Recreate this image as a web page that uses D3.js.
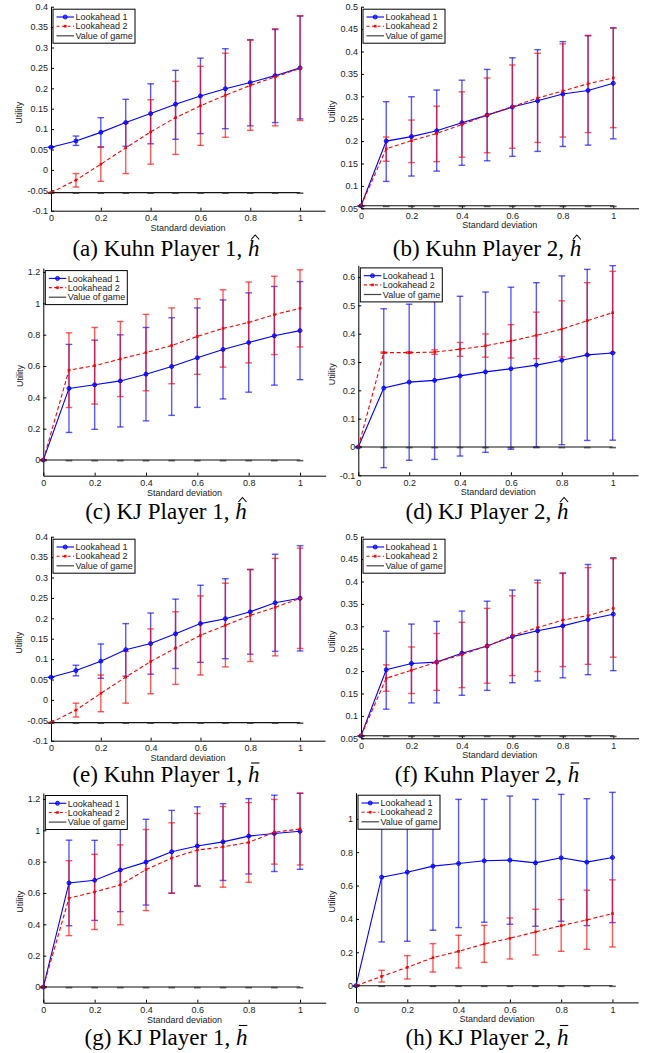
<!DOCTYPE html>
<html>
<head>
<meta charset="utf-8">
<script src="https://d3js.org/d3.v7.min.js"></script>
<style>
body { margin: 0; background: #fff; }
svg text { font-family: "Liberation Sans", Arial, sans-serif; fill: #222; }
svg text.cap { font-family: "Liberation Serif", "Times New Roman", serif; fill: #000; }
.domain { stroke: #000; }
.tick line { stroke: #000; }
</style>
</head>
<body>
<svg id="chart" width="651" height="1053"></svg>
<script>
// x positions (standard deviation)
const xVals = [0, 0.1, 0.2, 0.3, 0.4, 0.5, 0.6, 0.7, 0.8, 0.9, 1];
const xTicks = [0, 0.2, 0.4, 0.6, 0.8, 1];

// tick labels for the y axes
const kuhn1Ticks = [-0.1, -0.05, 0, 0.05, 0.1, 0.15, 0.2, 0.25, 0.3, 0.35, 0.4];
const kuhn2Ticks = [0.05, 0.1, 0.15, 0.2, 0.25, 0.3, 0.35, 0.4, 0.45, 0.5];
const kj1Ticks = [0, 0.2, 0.4, 0.6, 0.8, 1, 1.2];
const kj2hatTicks = [-0.1, 0, 0.1, 0.2, 0.3, 0.4, 0.5, 0.6];
const kj2barTicks = [0, 0.2, 0.4, 0.6, 0.8, 1];

const seriesNames = ["Lookahead 1", "Lookahead 2", "Value of game"];
const captions = ["(a) Kuhn Player 1, ", "(b) Kuhn Player 2, ", "(c) KJ Player 1, ", "(d) KJ Player 2, ",
                  "(e) Kuhn Player 1, ", "(f) Kuhn Player 2, ", "(g) KJ Player 1, ", "(h) KJ Player 2, "];
const accents = ["hat", "hat", "hat", "hat", "bar", "bar", "bar", "bar"];

// (a) Kuhn Player 1, h-hat
const a_l1    = [0.0556, 0.071, 0.092, 0.116, 0.138, 0.161, 0.181, 0.199, 0.214, 0.231, 0.250];
const a_l1_lo = [0.0556, 0.060, 0.056, 0.058, 0.064, 0.075, 0.089, 0.101, 0.108, 0.116, 0.125];
const a_l1_hi = [0.0556, 0.083, 0.128, 0.173, 0.211, 0.244, 0.274, 0.297, 0.319, 0.344, 0.377];
const a_l2    = [-0.0556, -0.025, 0.014, 0.054, 0.093, 0.128, 0.157, 0.183, 0.207, 0.228, 0.249];
const a_l2_lo = [-0.0556, -0.042, -0.028, -0.009, 0.014, 0.038, 0.060, 0.080, 0.097, 0.108, 0.121];
const a_l2_hi = [-0.0556, -0.009, 0.056, 0.115, 0.172, 0.217, 0.254, 0.286, 0.318, 0.346, 0.378];

// (b) Kuhn Player 2, h-hat
const b_l1    = [0.0556, 0.200, 0.210, 0.223, 0.241, 0.258, 0.276, 0.290, 0.305, 0.313, 0.329];
const b_l1_lo = [0.0556, 0.110, 0.122, 0.133, 0.146, 0.156, 0.166, 0.177, 0.188, 0.191, 0.205];
const b_l1_hi = [0.0556, 0.288, 0.299, 0.314, 0.336, 0.360, 0.386, 0.404, 0.422, 0.435, 0.453];
const b_l2    = [0.0556, 0.183, 0.201, 0.217, 0.237, 0.258, 0.277, 0.296, 0.312, 0.328, 0.341];
const b_l2_lo = [0.0556, 0.155, 0.152, 0.154, 0.164, 0.174, 0.184, 0.197, 0.209, 0.219, 0.230];
const b_l2_hi = [0.0556, 0.209, 0.247, 0.278, 0.310, 0.341, 0.370, 0.396, 0.417, 0.436, 0.452];

// (c) KJ Player 1, h-hat
const c_l1    = [0, 0.457, 0.480, 0.505, 0.548, 0.597, 0.653, 0.706, 0.750, 0.793, 0.826];
const c_l1_lo = [0, 0.176, 0.196, 0.211, 0.250, 0.285, 0.336, 0.390, 0.433, 0.478, 0.513];
const c_l1_hi = [0, 0.738, 0.765, 0.799, 0.846, 0.908, 0.971, 1.022, 1.067, 1.108, 1.139];
const c_l2    = [0, 0.574, 0.602, 0.645, 0.686, 0.731, 0.789, 0.840, 0.878, 0.928, 0.968];
const c_l2_lo = [0, 0.335, 0.357, 0.405, 0.442, 0.487, 0.547, 0.593, 0.620, 0.673, 0.722];
const c_l2_hi = [0, 0.812, 0.846, 0.884, 0.930, 0.971, 1.029, 1.087, 1.136, 1.173, 1.214];

// (d) KJ Player 2, h-hat
const d_l1    = [0, 0.208, 0.229, 0.235, 0.251, 0.265, 0.276, 0.289, 0.306, 0.325, 0.332];
const d_l1_lo = [0, -0.073, -0.047, -0.044, -0.032, -0.019, -0.008, 0.000, 0.008, 0.023, 0.024];
const d_l1_hi = [0, 0.488, 0.504, 0.514, 0.532, 0.547, 0.564, 0.580, 0.604, 0.627, 0.640];
const d_l2    = [0, 0.333, 0.333, 0.335, 0.345, 0.357, 0.374, 0.394, 0.416, 0.446, 0.474];
const d_l2_lo = [0, 0.331, 0.330, 0.327, 0.320, 0.317, 0.314, 0.312, 0.318, 0.324, 0.333];
const d_l2_hi = [0, 0.335, 0.336, 0.343, 0.369, 0.399, 0.432, 0.476, 0.516, 0.580, 0.620];

// (e) Kuhn Player 1, h-bar
const e_l1    = [0.0556, 0.072, 0.095, 0.123, 0.138, 0.162, 0.187, 0.199, 0.216, 0.238, 0.249];
const e_l1_lo = [0.0556, 0.059, 0.053, 0.058, 0.063, 0.077, 0.092, 0.101, 0.112, 0.119, 0.120];
const e_l1_hi = [0.0556, 0.085, 0.137, 0.187, 0.213, 0.247, 0.281, 0.297, 0.320, 0.357, 0.378];
const e_l2    = [-0.0556, -0.025, 0.016, 0.056, 0.094, 0.127, 0.158, 0.183, 0.207, 0.227, 0.249];
const e_l2_lo = [-0.0556, -0.042, -0.029, -0.008, 0.015, 0.038, 0.061, 0.081, 0.094, 0.108, 0.126];
const e_l2_hi = [-0.0556, -0.008, 0.061, 0.119, 0.174, 0.216, 0.255, 0.286, 0.319, 0.347, 0.372];

// (f) Kuhn Player 2, h-bar
const f_l1    = [0.0556, 0.203, 0.217, 0.220, 0.240, 0.256, 0.277, 0.290, 0.301, 0.315, 0.327];
const f_l1_lo = [0.0556, 0.115, 0.129, 0.129, 0.146, 0.157, 0.174, 0.178, 0.185, 0.192, 0.201];
const f_l1_hi = [0.0556, 0.289, 0.305, 0.311, 0.334, 0.356, 0.381, 0.403, 0.419, 0.438, 0.453];
const f_l2    = [0.0556, 0.184, 0.202, 0.220, 0.237, 0.256, 0.279, 0.297, 0.314, 0.324, 0.340];
const f_l2_lo = [0.0556, 0.155, 0.150, 0.157, 0.163, 0.173, 0.190, 0.199, 0.210, 0.215, 0.231];
const f_l2_hi = [0.0556, 0.214, 0.254, 0.284, 0.309, 0.340, 0.368, 0.397, 0.418, 0.431, 0.451];

// (g) KJ Player 1, h-bar
const g_l1    = [0, 0.664, 0.681, 0.747, 0.797, 0.863, 0.900, 0.926, 0.963, 0.980, 0.994];
const g_l1_lo = [0, 0.391, 0.425, 0.481, 0.523, 0.599, 0.647, 0.680, 0.721, 0.737, 0.751];
const g_l1_hi = [0, 0.937, 0.936, 1.013, 1.070, 1.127, 1.150, 1.170, 1.202, 1.224, 1.237];
const g_l2    = [0, 0.567, 0.607, 0.652, 0.749, 0.823, 0.874, 0.894, 0.923, 0.988, 1.008];
const g_l2_lo = [0, 0.328, 0.367, 0.397, 0.488, 0.598, 0.643, 0.637, 0.668, 0.784, 0.779];
const g_l2_hi = [0, 0.806, 0.847, 0.907, 1.005, 1.048, 1.107, 1.152, 1.177, 1.197, 1.236];

// (h) KJ Player 2, h-bar
const h_l1    = [0, 0.650, 0.680, 0.716, 0.732, 0.748, 0.752, 0.736, 0.766, 0.740, 0.768];
const h_l1_lo = [0, 0.262, 0.266, 0.332, 0.348, 0.380, 0.368, 0.356, 0.386, 0.360, 0.378];
const h_l1_hi = [0, 1.038, 1.094, 1.100, 1.116, 1.116, 1.136, 1.116, 1.146, 1.120, 1.158];
const h_l2    = [0, 0.056, 0.110, 0.168, 0.206, 0.250, 0.284, 0.322, 0.360, 0.394, 0.432];
const h_l2_lo = [0, 0.022, 0.040, 0.082, 0.106, 0.140, 0.160, 0.184, 0.206, 0.218, 0.232];
const h_l2_hi = [0, 0.092, 0.180, 0.252, 0.302, 0.362, 0.406, 0.458, 0.516, 0.572, 0.634];

// value of the game for each panel
const gameValues = [-0.0556, 0.0556, 0, 0, -0.0556, 0.0556, 0, 0];

const blue = "#0000ff", red = "#ff0000";
const svg = d3.select("#chart");

// layout of each subplot (pixel box of the axes)
const panels = [
  {left: 51,    right: 325,   top: 6.7,   bottom: 210.7,  ydom: [-0.1, 0.4],   yticks: kuhn1Ticks,  l1: [a_l1, a_l1_lo, a_l1_hi], l2: [a_l2, a_l2_lo, a_l2_hi], cx: 166, cy: 256},
  {left: 361,   right: 638.5, top: 6.7,   bottom: 208.3,  ydom: [0.05, 0.5],   yticks: kuhn2Ticks,  l1: [b_l1, b_l1_lo, b_l1_hi], l2: [b_l2, b_l2_lo, b_l2_hi], cx: 487, cy: 256},
  {left: 43.3,  right: 325.7, top: 268.1, bottom: 475.7,  ydom: [-0.1, 1.225], yticks: kj1Ticks,    l1: [c_l1, c_l1_lo, c_l1_hi], l2: [c_l2, c_l2_lo, c_l2_hi], cx: 166, cy: 518.5},
  {left: 358.3, right: 638.1, top: 265.4, bottom: 475.3,  ydom: [-0.1, 0.641], yticks: kj2hatTicks, l1: [d_l1, d_l1_lo, d_l1_hi], l2: [d_l2, d_l2_lo, d_l2_hi], cx: 487, cy: 518.5},
  {left: 51,    right: 325,   top: 536.7, bottom: 740.7,  ydom: [-0.1, 0.4],   yticks: kuhn1Ticks,  l1: [e_l1, e_l1_lo, e_l1_hi], l2: [e_l2, e_l2_lo, e_l2_hi], cx: 166, cy: 782},
  {left: 361,   right: 638.5, top: 536.7, bottom: 738.3,  ydom: [0.05, 0.5],   yticks: kuhn2Ticks,  l1: [f_l1, f_l1_lo, f_l1_hi], l2: [f_l2, f_l2_lo, f_l2_hi], cx: 487, cy: 782},
  {left: 43.3,  right: 325.7, top: 793,   bottom: 1002.7, ydom: [-0.1, 1.238], yticks: kj1Ticks,    l1: [g_l1, g_l1_lo, g_l1_hi], l2: [g_l2, g_l2_lo, g_l2_hi], cx: 166, cy: 1044.5},
  {left: 356,   right: 638.1, top: 792.7, bottom: 1002.4, ydom: [-0.1, 1.156], yticks: kj2barTicks, l1: [h_l1, h_l1_lo, h_l1_hi], l2: [h_l2, h_l2_lo, h_l2_hi], cx: 487, cy: 1044.5}
];

const fmt = d => String(+d.toFixed(2));

function errorBars(g, x, y, mean, lo, hi, color) {
  const eb = g.append("g").attr("stroke", color).attr("stroke-opacity", 0.65).attr("stroke-width", 1.4);
  xVals.forEach((xv, i) => {
    const px = x(xv);
    eb.append("line").attr("x1", px).attr("x2", px).attr("y1", y(lo[i])).attr("y2", y(hi[i]));
    eb.append("line").attr("x1", px - 3.3).attr("x2", px + 3.3).attr("y1", y(lo[i])).attr("y2", y(lo[i]));
    eb.append("line").attr("x1", px - 3.3).attr("x2", px + 3.3).attr("y1", y(hi[i])).attr("y2", y(hi[i]));
  });
}

function drawPanel(p, k) {
  const x = d3.scaleLinear().domain([0, 1.1]).range([p.left, p.right]);
  const y = d3.scaleLinear().domain(p.ydom).range([p.bottom, p.top]);
  const g = svg.append("g");

  // axes (MATLAB style, ticks pointing in, box off)
  const ya = g.append("g").attr("transform", `translate(${p.left},0)`)
    .call(d3.axisLeft(y).tickValues(p.yticks).tickFormat(fmt).tickSizeInner(-3).tickSizeOuter(0).tickPadding(3));
  const xa = g.append("g").attr("transform", `translate(0,${p.bottom})`)
    .call(d3.axisBottom(x).tickValues(xTicks).tickFormat(fmt).tickSizeInner(-3).tickSizeOuter(0).tickPadding(4));
  g.selectAll(".tick text").attr("font-size", 9).attr("font-family", "Liberation Sans, Arial, sans-serif").attr("fill", "#222");

  let maxW = 0;
  ya.selectAll(".tick text").each(function() { maxW = Math.max(maxW, this.getComputedTextLength()); });

  g.append("text").attr("x", (p.left + p.right) / 2).attr("y", p.bottom + 20)
    .attr("text-anchor", "middle").attr("font-size", 9).text("Standard deviation");
  g.append("text")
    .attr("transform", `translate(${p.left - 3 - maxW - 5},${(p.top + p.bottom) / 2 + 4}) rotate(-90)`)
    .attr("text-anchor", "middle").attr("font-size", 9).text("Utility");

  // series 1 (blue, solid, circles)
  errorBars(g, x, y, p.l1[0], p.l1[1], p.l1[2], blue);
  // series 2 (red, dashed, dots)
  errorBars(g, x, y, p.l2[0], p.l2[1], p.l2[2], red);

  const line = d3.line().x((d, i) => x(xVals[i])).y(d => y(d));
  g.append("path").attr("d", line(p.l1[0])).attr("fill", "none").attr("stroke", blue).attr("stroke-width", 1.1);
  g.selectAll(null).data(p.l1[0]).join("circle")
    .attr("cx", (d, i) => x(xVals[i])).attr("cy", d => y(d)).attr("r", 2)
    .attr("fill", blue).attr("fill-opacity", 0.6).attr("stroke", blue).attr("stroke-width", 0.9);

  g.append("path").attr("d", line(p.l2[0])).attr("fill", "none").attr("stroke", red)
    .attr("stroke-width", 1.1).attr("stroke-dasharray", "4,2.5");
  g.selectAll(null).data(p.l2[0]).join("rect")
    .attr("x", (d, i) => x(xVals[i]) - 1.3).attr("y", d => y(d) - 1.3).attr("width", 2.6).attr("height", 2.6)
    .attr("fill", red);

  // value of game (zero-width error bars give the thicker caps)
  const gv = gameValues[k];
  g.append("line").attr("x1", x(0)).attr("x2", x(1)).attr("y1", y(gv)).attr("y2", y(gv))
    .attr("stroke", "#111").attr("stroke-width", 1.1);
  g.selectAll(null).data(xVals).join("line")
    .attr("x1", d => x(d) - 3.3).attr("x2", d => x(d) + 3.3).attr("y1", y(gv) + 0.6).attr("y2", y(gv) + 0.6)
    .attr("stroke", "#333").attr("stroke-width", 1.6).attr("stroke-opacity", 0.8);

  // legend
  const lx = p.left + 2, ly = p.top + 2.5;
  const lg = g.append("g").attr("transform", `translate(${lx},${ly})`);
  lg.append("rect").attr("width", 82).attr("height", 34).attr("fill", "#fff").attr("stroke", "#000").attr("stroke-width", 1);
  const rows = [7.8, 17, 26.6];
  lg.append("line").attr("x1", 3.5).attr("x2", 21).attr("y1", rows[0]).attr("y2", rows[0]).attr("stroke", blue).attr("stroke-width", 1.1);
  lg.append("circle").attr("cx", 12.2).attr("cy", rows[0]).attr("r", 2).attr("fill", blue).attr("fill-opacity", 0.6).attr("stroke", blue).attr("stroke-width", 0.9);
  lg.append("line").attr("x1", 3.5).attr("x2", 21).attr("y1", rows[1]).attr("y2", rows[1]).attr("stroke", red).attr("stroke-width", 1.1).attr("stroke-dasharray", "3,2.5");
  lg.append("rect").attr("x", 10.9).attr("y", rows[1] - 1.3).attr("width", 2.6).attr("height", 2.6).attr("fill", red);
  lg.append("line").attr("x1", 3.5).attr("x2", 21).attr("y1", rows[2]).attr("y2", rows[2]).attr("stroke", "#444").attr("stroke-width", 1.2);
  seriesNames.forEach((s, i) => {
    lg.append("text").attr("x", 22.5).attr("y", rows[i] + 3.2).attr("font-size", 9).text(s);
  });

  // caption with accented italic h
  const cap = svg.append("text").attr("class", "cap").attr("x", p.cx).attr("y", p.cy)
    .attr("text-anchor", "middle").attr("font-size", 23);
  cap.append("tspan").text(captions[k]);
  cap.append("tspan").attr("font-style", "italic").text("h");
  const n = cap.node().getNumberOfChars();
  const bb = cap.node().getBBox();
  const hx = bb.x + cap.node().getSubStringLength(0, n - 1);
  const hw = cap.node().getSubStringLength(n - 1, 1);
  const ax = hx + hw * 0.62, ay = p.cy - 18;
  if (accents[k] === "hat") {
    svg.append("path").attr("d", `M${ax - 4},${ay + 1.5} L${ax},${ay - 3} L${ax + 4},${ay + 1.5}`)
      .attr("fill", "none").attr("stroke", "#000").attr("stroke-width", 1.1);
  } else {
    svg.append("line").attr("x1", ax - 4.2).attr("x2", ax + 4.2).attr("y1", ay - 1).attr("y2", ay - 1)
      .attr("stroke", "#000").attr("stroke-width", 1.1);
  }
}

panels.forEach(drawPanel);
</script>
</body>
</html>
